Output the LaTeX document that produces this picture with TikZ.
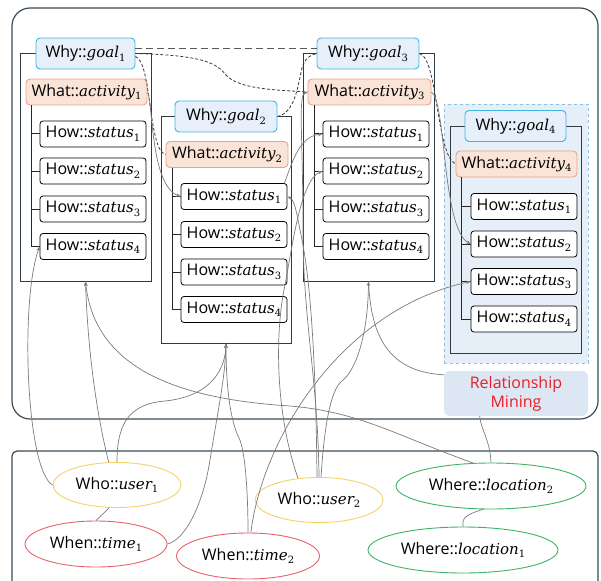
\RequirePackage{fix-cm}
\documentclass[tikz,border=0pt]{standalone}
\usepackage[no-math]{fontspec}
\setmainfont{Open Sans}
\newfontfamily\varfont{DejaVu Serif}
\usetikzlibrary{shapes.geometric,arrows.meta,calc}

% italic variable name with an upright index
\newcommand{\vname}[2]{{\varfont\itshape\fontsize{15}{19}\selectfont #1}\raisebox{-3.5pt}{\varfont\fontsize{10}{12}\selectfont #2}}

\definecolor{whyfill}{HTML}{E7F0FA}
\definecolor{whyline}{HTML}{3DB5E0}
\definecolor{whatfill}{HTML}{FAE3D7}
\definecolor{whatline}{HTML}{E9A486}
\definecolor{grpline}{HTML}{2D3B45}
\definecolor{panelline}{HTML}{3C4B57}
\definecolor{connc}{HTML}{7A7A7A}
\definecolor{dashc}{HTML}{3A3A3A}
\definecolor{bgfill}{HTML}{E6EFF8}
\definecolor{bgline}{HTML}{8FBFE0}
\definecolor{rmfill}{HTML}{DCE7F3}
\definecolor{rmtext}{HTML}{E8202A}
\definecolor{whoc}{HTML}{F3D366}
\definecolor{whenc}{HTML}{E9616C}
\definecolor{wherec}{HTML}{3DB464}

\begin{document}
\begin{tikzpicture}[x=1pt,y=-1pt,
  lbl/.style={font=\fontsize{16}{19}\selectfont, inner sep=0pt, align=center},
  whynode/.style={lbl, draw=whyline, fill=whyfill, rounded corners=4pt, line width=0.9pt, minimum width=#1, minimum height=31pt},
  whatnode/.style={lbl, draw=whatline, fill=whatfill, rounded corners=4pt, line width=0.9pt, minimum width=#1, minimum height=26pt},
  statbox/.style={lbl, draw=black, fill=white, rounded corners=3pt, line width=0.8pt, minimum width=106pt, minimum height=26pt},
  grpbox/.style={draw=grpline, line width=0.8pt, inner sep=0pt},
  tree/.style={draw=black!85, line width=1pt},
  ctx/.style={lbl, ellipse, fill=white, line width=0.9pt, minimum height=46pt},
  conn/.style={draw=connc, line width=0.7pt},
  arr/.style={conn, -{Stealth[length=4.5pt,width=3.5pt]}},
  dsh/.style={draw=dashc, line width=0.8pt, dash pattern=on 3pt off 2pt},
  ldsh/.style={draw=dashc!85, line width=1pt, dash pattern=on 7pt off 4pt},
  panel/.style={draw=panelline, line width=1.2pt}
]
\useasboundingbox (0,0) rectangle (601,580);
\clip (0,0) rectangle (601,580);

% panels
\draw[panel, rounded corners=18pt] (12,8) rectangle (598,419);
\draw[panel, rounded corners=5pt] (12,451) rectangle (598,640);

% shaded frame around the fourth group
\node[draw=bgline, fill=bgfill, dashed, line width=0.8pt, inner sep=0pt,
      minimum width=144pt, minimum height=259pt] (g4bg) at (516,233.5) {};

% group frames
\node[grpbox, minimum width=131pt, minimum height=228pt] (box1) at (85.5,167) {};
\node[grpbox, minimum width=130pt, minimum height=227pt] (box2) at (226,229.5) {};
\node[grpbox, minimum width=131pt, minimum height=228pt] (box3) at (368.5,167) {};
\node[grpbox, minimum width=131pt, minimum height=227pt] (box4) at (515.5,239.5) {};

% group 1
\node[whynode=99pt] (goal1) at (85.5,53.5) {Why::\vname{goal}{1}};
\node[whatnode=121pt] (act1) at (86.5,92) {What::\vname{activity}{1}};
\node[statbox] (s11) at (93,134) {How::\vname{status}{1}};
\node[statbox] (s12) at (93,171) {How::\vname{status}{2}};
\node[statbox] (s13) at (93,209) {How::\vname{status}{3}};
\node[statbox] (s14) at (93,246.5) {How::\vname{status}{4}};

% group 2
\node[whynode=102pt] (goal2) at (226,116.5) {Why::\vname{goal}{2}};
\node[whatnode=122pt] (act2) at (227,154.5) {What::\vname{activity}{2}};
\node[statbox] (s21) at (234,196.5) {How::\vname{status}{1}};
\node[statbox] (s22) at (234,234.5) {How::\vname{status}{2}};
\node[statbox] (s23) at (234,272) {How::\vname{status}{3}};
\node[statbox] (s24) at (234,309.5) {How::\vname{status}{4}};

% group 3
\node[whynode=102pt] (goal3) at (368,53.5) {Why::\vname{goal}{3}};
\node[whatnode=123pt] (act3) at (369.5,92) {What::\vname{activity}{3}};
\node[statbox] (s31) at (376,134) {How::\vname{status}{1}};
\node[statbox] (s32) at (376,171) {How::\vname{status}{2}};
\node[statbox] (s33) at (376,209) {How::\vname{status}{3}};
\node[statbox] (s34) at (376,246.5) {How::\vname{status}{4}};

% group 4
\node[whynode=101pt] (goal4) at (515.5,126) {Why::\vname{goal}{4}};
\node[whatnode=121pt] (act4) at (516.5,164) {What::\vname{activity}{4}};
\node[statbox] (s41) at (524,206.5) {How::\vname{status}{1}};
\node[statbox] (s42) at (524,244) {How::\vname{status}{2}};
\node[statbox] (s43) at (524,281.5) {How::\vname{status}{3}};
\node[statbox] (s44) at (524,319) {How::\vname{status}{4}};

% tree branches from each activity to its statuses
\coordinate (t1) at (31,0);
\coordinate (t2) at (172,0);
\coordinate (t3) at (314,0);
\coordinate (t4) at (461,0);
\foreach \g in {1,2,3,4}{
  \draw[tree] (t\g |- act\g.south) -- (t\g |- s\g4.west) -- (s\g4.west);
  \foreach \k in {1,2,3}{
    \draw[tree] (t\g |- s\g\k.west) -- (s\g\k.west);
  }
}

% relationship mining label
\node[lbl, fill=rmfill, rounded corners=6pt, text=rmtext,
      minimum width=144pt, minimum height=45pt] (rm) at (516,393.5) {Relationship\\Mining};

% context ellipses
\node[ctx, draw=whoc, minimum width=128pt, minimum height=45pt] (user1) at (117,485) {Who::\vname{user}{1}};
\node[ctx, draw=whenc, minimum width=142pt] (time1) at (96,544) {When::\vname{time}{1}};
\node[ctx, draw=whenc, minimum width=143pt] (time2) at (248,556) {When::\vname{time}{2}};
\node[ctx, draw=whoc, minimum width=128pt, minimum height=45pt] (user2) at (319,500) {Who::\vname{user}{2}};
\node[ctx, draw=wherec, minimum width=190pt] (loc2) at (491,486) {Where::\vname{location}{2}};
\node[ctx, draw=wherec, minimum width=190pt] (loc1) at (463,550) {Where::\vname{location}{1}};

% links between goals and activities
\draw[ldsh] ([yshift=5pt]goal1.east) -- ([yshift=5pt]goal3.west);
\draw[dsh] ([yshift=-3pt]goal1.east) .. controls (152,62) and (148,150) .. (act2.west);
\draw[dsh] (goal1.east) .. controls (190,55) and (215,60) .. (225,74) .. controls (238,90) and (280,90) .. (act3.west);
\draw[dsh] (goal2.east) .. controls (295,113) and (298,85) .. (302,68) .. controls (305,58) and (310,55) .. (goal3.west);
\draw[dsh] (goal3.east) .. controls (438,58) and (436,155) .. (act4.west);

% links between activities and statuses
\draw[arr] (act1.east) .. controls (153,100) and (150,185) .. (s21.west);
\draw[arr] ([xshift=-3pt]s21.north east) .. controls (293,160) and (300,136) .. (s31.west);
\draw[arr] (act3.east) .. controls (446,100) and (442,228) .. (s42.west);

% links from the context ellipses
\draw[conn] (user1.-109) -- (time1.north);
\draw[conn] (loc2.-108) .. controls (463,515) and (462,520) .. (loc1.north);
\draw[arr] (user1.west) .. controls (26,470) and (20,300) .. (s14.west);
\draw[arr] (user1.110) .. controls (93,400) and (87,330) .. (box1.south);
\draw[arr] (user1.north) .. controls (117,425) and (128,404) .. (165,401) .. controls (205,397) and (225,375) .. (box2.south);
\draw[arr] (time1.east) .. controls (185,540) and (203,505) .. (210,460) .. controls (217,415) and (225,380) .. (box2.south);
\draw[arr] (time2.north) .. controls (248,490) and (245,450) .. (239,438) .. controls (230,420) and (226,385) .. (box2.south);
\draw[arr] (time2.83) .. controls (262,440) and (340,310) .. (s43.west);
\draw[arr] (user2.134) .. controls (274,410) and (276,330) .. (284,290) .. controls (292,250) and (300,180) .. (s32.west);
\draw[arr] (user2.north) .. controls (318,380) and (303,320) .. (303,230) .. controls (303,140) and (298,95) .. (act3.west);
\draw[arr] (user2.95) .. controls (316,380) and (312,290) .. (302,240) .. controls (297,215) and (295,200) .. (s21.east);
\draw[arr] (user2.85) .. controls (324,430) and (330,390) .. (342,381) .. controls (358,368) and (368,330) .. (box3.south);
\draw[conn] (box3.south) .. controls (371,345) and (395,372) .. ([yshift=-4pt]rm.north west);
\draw[arr] (loc2.128) .. controls (395,435) and (360,412) .. (290,406) .. controls (180,399) and (95,370) .. (box1.south);
\draw[conn] (loc2.north) .. controls (490,440) and (481,430) .. (rm.212);

\end{tikzpicture}
\end{document}
